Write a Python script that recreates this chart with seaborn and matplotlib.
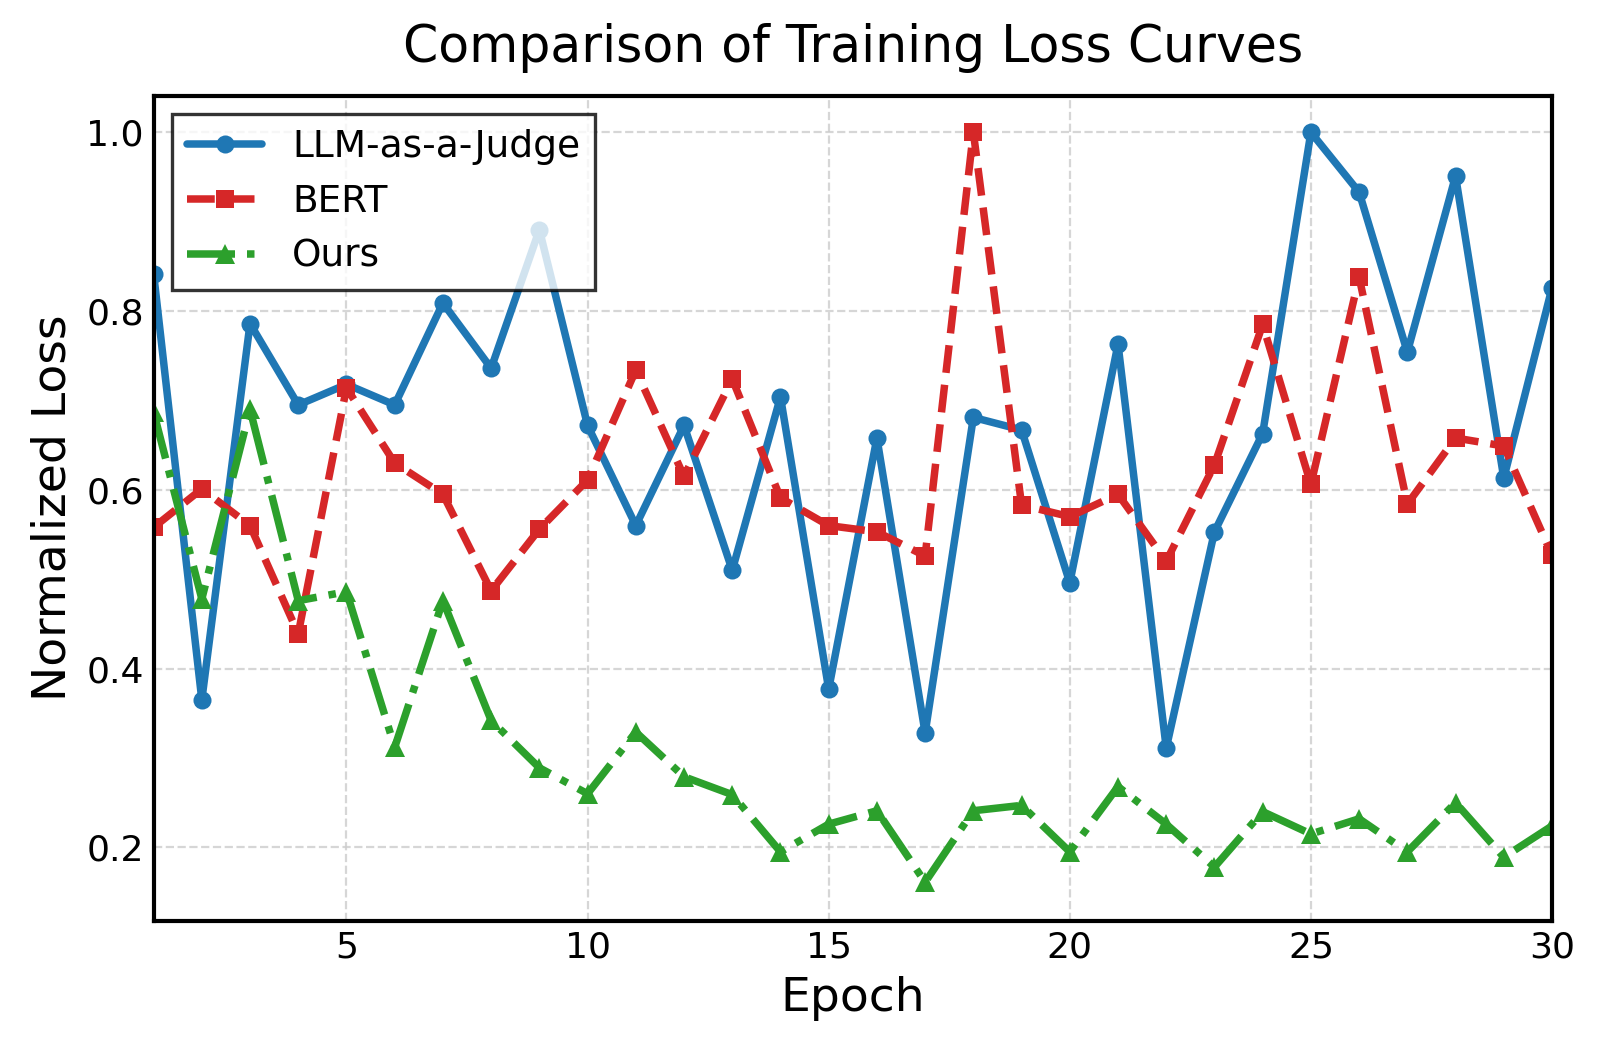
import matplotlib
matplotlib.use("Agg")
import matplotlib.pyplot as plt
import seaborn as sns

epochs = list(range(1, 31))
llm_judge = [0.842, 0.365, 0.786, 0.695, 0.718, 0.695, 0.809, 0.736, 0.891, 0.672,
             0.560, 0.672, 0.510, 0.704, 0.377, 0.658, 0.328, 0.681, 0.667, 0.496,
             0.763, 0.311, 0.553, 0.663, 1.000, 0.933, 0.754, 0.951, 0.613, 0.826]
bert = [0.558, 0.601, 0.560, 0.439, 0.714, 0.630, 0.595, 0.487, 0.556, 0.611,
        0.734, 0.615, 0.724, 0.591, 0.560, 0.553, 0.526, 1.000, 0.583, 0.570,
        0.595, 0.520, 0.628, 0.785, 0.606, 0.838, 0.584, 0.658, 0.649, 0.527]
ours = [0.687, 0.478, 0.690, 0.476, 0.486, 0.312, 0.476, 0.342, 0.289, 0.260,
        0.329, 0.279, 0.259, 0.195, 0.226, 0.241, 0.161, 0.241, 0.247, 0.195,
        0.268, 0.226, 0.178, 0.240, 0.215, 0.232, 0.195, 0.250, 0.189, 0.224]

sns.set_style("white")
plt.rcParams['font.family'] = ['DejaVu Sans']
plt.rcParams['text.color'] = 'black'
plt.rcParams['axes.labelcolor'] = 'black'
plt.rcParams['xtick.color'] = 'black'
plt.rcParams['ytick.color'] = 'black'

fig, ax = plt.subplots(figsize=(8, 5.255), dpi=200)

# three curves
sns.lineplot(x=epochs, y=llm_judge, ax=ax, color='#1f77b4', linestyle='-', marker='o',
             markersize=6.5, markeredgewidth=0, linewidth=2.7, label='LLM-as-a-Judge')
sns.lineplot(x=epochs, y=bert, ax=ax, color='#d62728', linestyle='--', marker='s',
             markersize=6.5, markeredgewidth=0, linewidth=2.7, label='BERT')
sns.lineplot(x=epochs, y=ours, ax=ax, color='#2ca02c', linestyle='-.', marker='^',
             markersize=7.5, markeredgewidth=0, linewidth=2.7, label='Ours')

ax.set_xlim(1, 30)
ax.set_ylim(0.118, 1.041)
ax.set_xticks([5, 10, 15, 20, 25, 30])
ax.set_yticks([0.2, 0.4, 0.6, 0.8, 1.0])
ax.grid(True, linestyle='--', color='#cccccc', linewidth=0.8, alpha=0.8)
ax.tick_params(direction='in', length=5, width=1.2, labelsize=13, colors='black')
for s in ax.spines.values():
    s.set_color('black')
    s.set_linewidth(1.5)

ax.set_title("Comparison of Training Loss Curves", fontsize=18.2, pad=12, color='black')
ax.set_xlabel("Epoch", fontsize=17)
ax.set_ylabel("Normalized Loss", fontsize=17)

leg = ax.legend(loc='upper left', fontsize=13.5, frameon=True, fancybox=False,
                framealpha=0.8, edgecolor='black')
leg.get_frame().set_linewidth(1.2)

plt.subplots_adjust(left=0.096, right=0.97, top=0.909, bottom=0.124)
fig.savefig("out.png", dpi=200)
